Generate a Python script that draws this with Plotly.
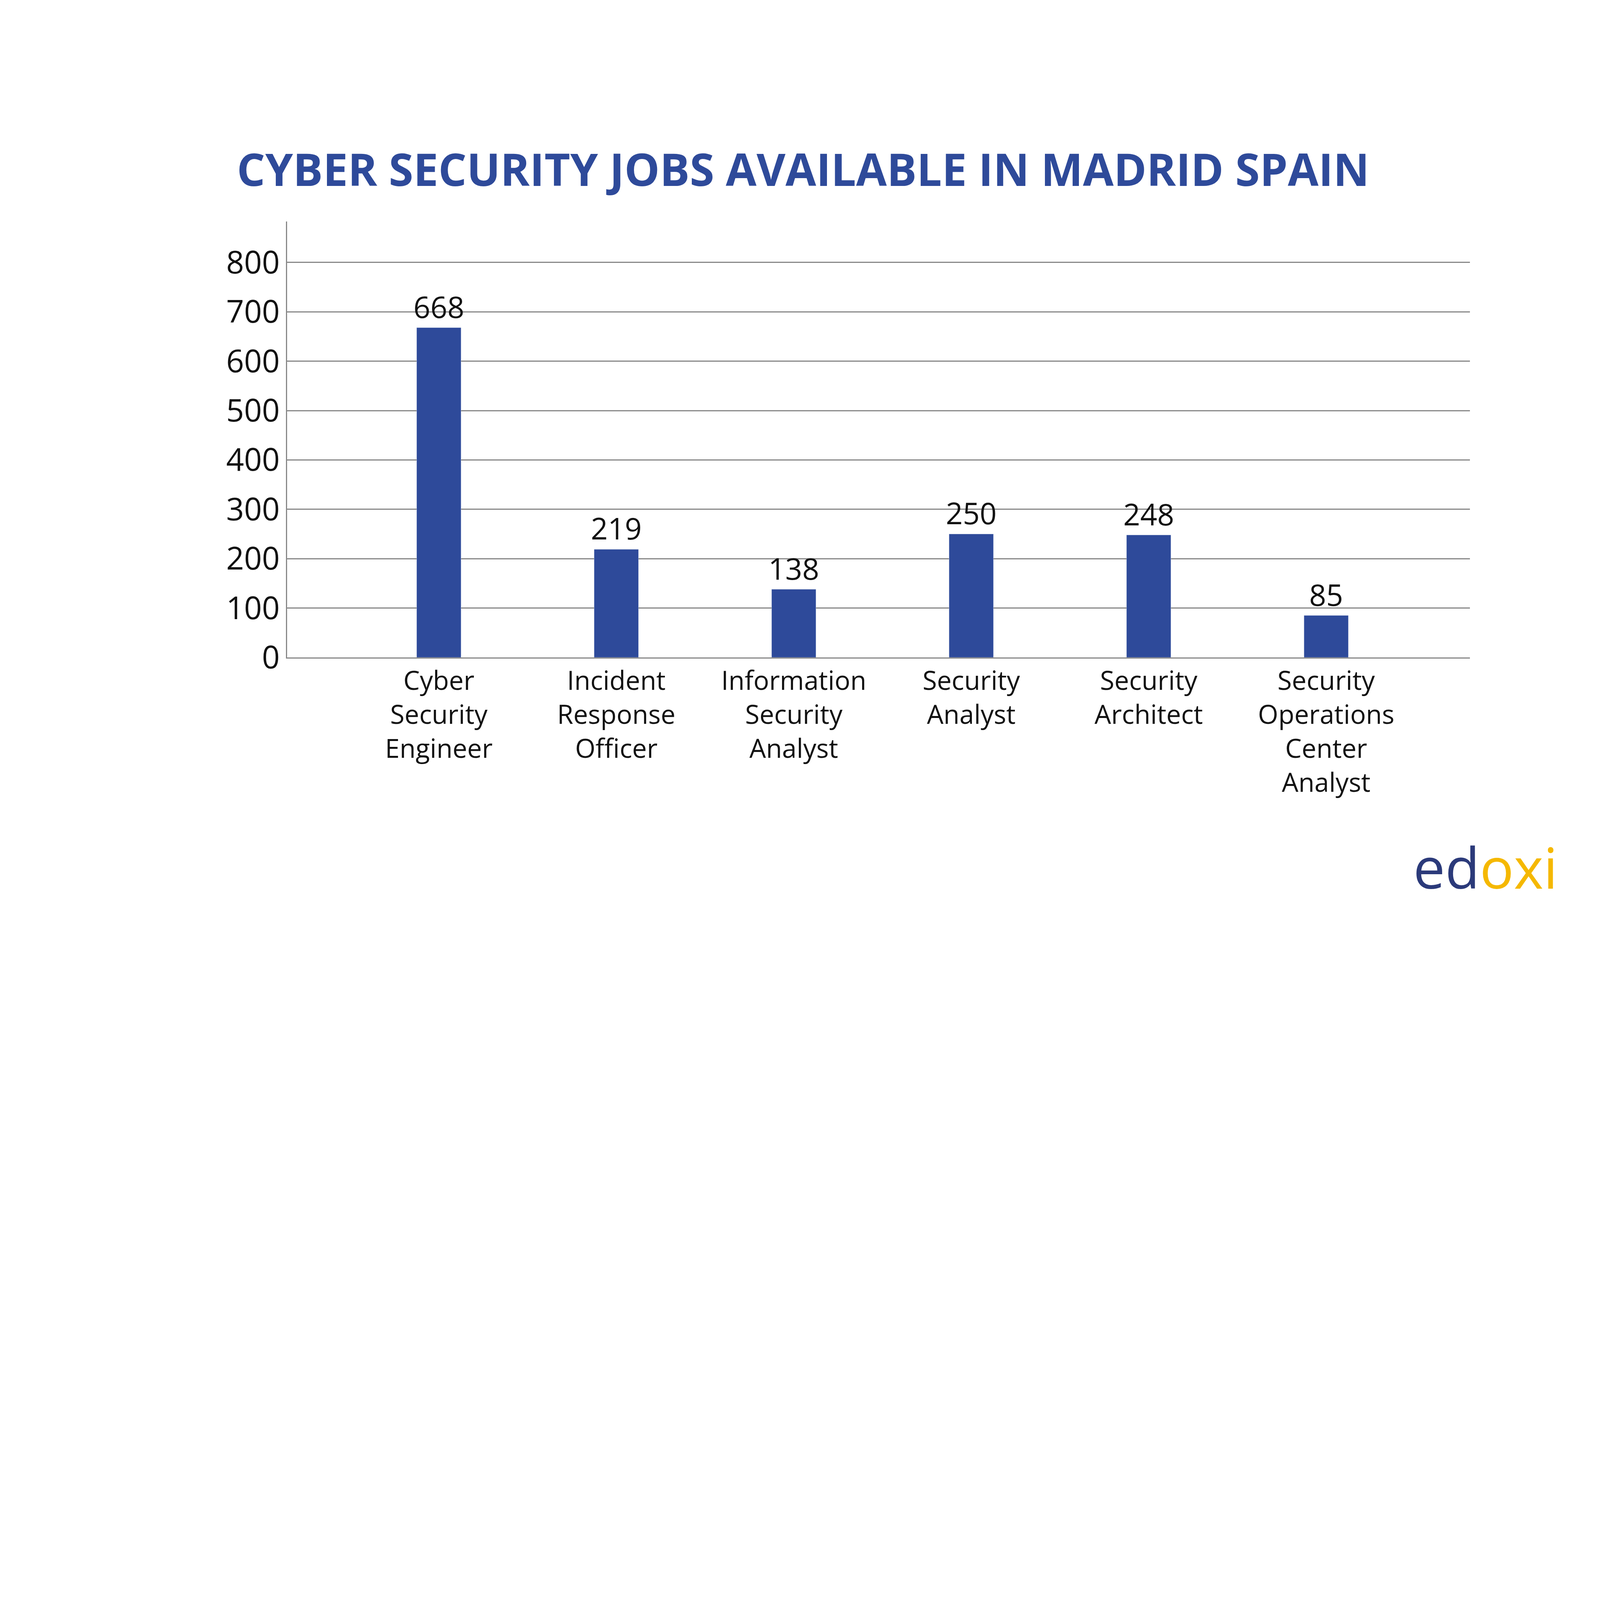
import plotly.graph_objects as go

# Chart data
categories = ['Cyber<br>Security<br>Engineer', 'Incident<br>Response<br>Officer',
              'Information<br>Security<br>Analyst', 'Security<br>Analyst',
              'Security<br>Architect', 'Security<br>Operations<br>Center<br>Analyst']
jobs = [668, 219, 138, 250, 248, 85]
y_ticks = [0, 100, 200, 300, 400, 500, 600, 700, 800]

BLUE = '#2E4A9A'
FONT = 'Open Sans'

# The browser window is 4096 wide, so the figure is drawn at 4096x2304 (16:9)
fig = go.Figure()
fig.add_trace(go.Bar(x=list(range(len(categories))), y=jobs, width=0.25,
                     marker=dict(color=BLUE), text=jobs, textposition='outside',
                     cliponaxis=False, constraintext='none',
                     textfont=dict(size=76, color='#111111', family=FONT)))

fig.update_layout(
    width=4096, height=2304, margin=dict(l=727, r=341, t=559, b=629),
    plot_bgcolor='white', paper_bgcolor='white', showlegend=False,
    title=dict(text='<b>CYBER SECURITY JOBS AVAILABLE IN MADRID SPAIN</b>',
               x=0.5, xanchor='center', y=0.814, yanchor='middle',
               font=dict(size=114, color=BLUE, family=FONT)),
)
fig.update_xaxes(range=[-0.855, 5.81], tickvals=list(range(len(categories))),
                 ticktext=categories, showgrid=False, showline=True,
                 linecolor='#888888', linewidth=2.5, ticks='',
                 tickfont=dict(size=67, color='#111111', family=FONT))
fig.update_yaxes(range=[0, 883], tickvals=y_ticks, showgrid=True,
                 gridcolor='#888888', gridwidth=2.5, showline=True,
                 linecolor='#888888', linewidth=2.5, zeroline=False, ticks='',
                 tickfont=dict(size=80, color='#111111', family=FONT))

# Logo
fig.add_annotation(xref='paper', yref='paper', x=1.075, y=-0.39,
                   xanchor='right', yanchor='top', showarrow=False,
                   text="<span style='color:#2B3A7A'>ed</span><span style='color:#F5B800'>oxi</span>",
                   font=dict(size=145, family=FONT))

fig.write_html('out.html')
